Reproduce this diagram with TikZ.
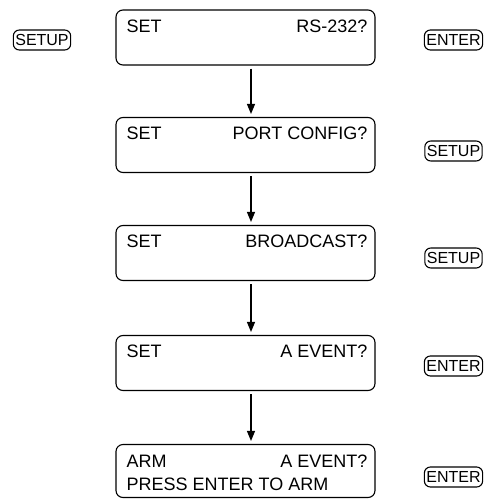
\documentclass[tikz,border=0pt]{standalone}
\usepackage{fontspec}
\setmainfont{Liberation Sans}
\usetikzlibrary{arrows.meta}
\begin{document}
\begin{tikzpicture}[x=1pt,y=-1pt,>={Triangle[width=8pt,length=10pt]}]
  \tikzstyle{screen}=[draw, line width=1.1pt, rounded corners=7pt, minimum width=259pt, minimum height=55pt, inner sep=0pt]
  \tikzstyle{key}=[draw, line width=1.1pt, rounded corners=6pt, minimum height=20pt, inner xsep=2pt, inner ysep=0pt, font=\fontsize{16}{16}\selectfont]
  \tikzstyle{txt}=[inner sep=0pt, font=\fontsize{18}{18}\selectfont]
  \tikzstyle{arrow}=[->, line width=1.1pt, shorten <=3pt, shorten >=3pt]

  \useasboundingbox (0,0) rectangle (483,499);

  \node[screen] (s1) at (245.5,37.5) {};
  \node[screen] (s2) at (245.5,145) {};
  \node[screen] (s3) at (245.5,253) {};
  \node[screen] (s4) at (245.5,363) {};
  \node[screen, minimum height=53pt] (s5) at (245.5,471) {};

  \node[txt, anchor=base west] (s1a) at ([xshift=11pt,yshift=-23pt]s1.north west) {SET};
  \node[txt, anchor=base east] (s1b) at ([xshift=-8pt,yshift=-23pt]s1.north east) {RS-232?};
  \node[txt, anchor=base west] (s2a) at ([xshift=11pt,yshift=-23pt]s2.north west) {SET};
  \node[txt, anchor=base east] (s2b) at ([xshift=-8pt,yshift=-23pt]s2.north east) {PORT CONFIG?};
  \node[txt, anchor=base west] (s3a) at ([xshift=11pt,yshift=-23pt]s3.north west) {SET};
  \node[txt, anchor=base east] (s3b) at ([xshift=-8pt,yshift=-23pt]s3.north east) {BROADCAST?};
  \node[txt, anchor=base west] (s4a) at ([xshift=11pt,yshift=-23pt]s4.north west) {SET};
  \node[txt, anchor=base east] (s4b) at ([xshift=-8pt,yshift=-23pt]s4.north east) {A EVENT?};
  \node[txt, anchor=base west] (s5a) at ([xshift=11pt,yshift=-24pt]s5.north west) {ARM};
  \node[txt, anchor=base east] (s5b) at ([xshift=-8pt,yshift=-24pt]s5.north east) {A EVENT?};
  \node[txt, anchor=base west] (s5c) at ([xshift=11pt,yshift=-47pt]s5.north west) {PRESS ENTER TO ARM};

  \node[key] (k0) at (42,40) {SETUP};
  \node[key] (k1) at (453.5,40) {ENTER};
  \node[key] (k2) at (453.5,151) {SETUP};
  \node[key] (k3) at (453.5,258) {SETUP};
  \node[key] (k4) at (453.5,366) {ENTER};
  \node[key] (k5) at (453.5,477) {ENTER};

  \draw[arrow] ([xshift=5.5pt]s1.south) -- ([xshift=5.5pt]s2.north);
  \draw[arrow] ([xshift=5.5pt]s2.south) -- ([xshift=5.5pt]s3.north);
  \draw[arrow] ([xshift=5.5pt]s3.south) -- ([xshift=5.5pt]s4.north);
  \draw[arrow] ([xshift=5.5pt]s4.south) -- ([xshift=5.5pt]s5.north);
\end{tikzpicture}
\end{document}
